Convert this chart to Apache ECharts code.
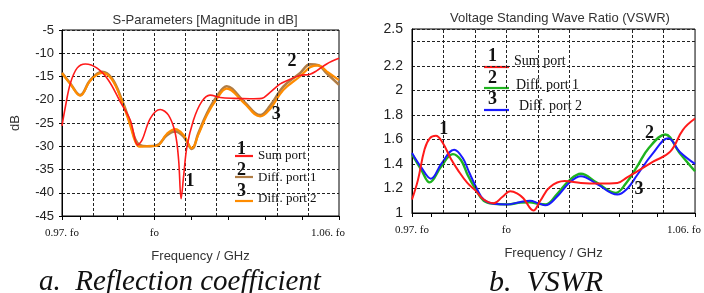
<!DOCTYPE html>
<html>
<head>
<meta charset="utf-8">
<script src="https://cdn.jsdelivr.net/npm/echarts@6/dist/echarts.min.js"></script>
<style>
  html, body { margin: 0; padding: 0; background: #fff; }
  #main { width: 704px; height: 293px; }
</style>
</head>
<body>
<div id="main"></div>
<script>
// ---- left chart: S-parameters (dB) ----
const sumPortF = [0.9700, 0.9711, 0.9727, 0.9749, 0.9776, 0.9814, 0.9851, 0.9889, 0.9922, 0.9946, 0.9960, 0.9987, 1.0019, 1.0046, 1.0068, 1.0079, 1.0087, 1.0095, 1.0106, 1.0127, 1.0154, 1.0181, 1.0214, 1.0257, 1.0311, 1.0349, 1.0376, 1.0409, 1.0441, 1.0473, 1.0506, 1.0527, 1.0560, 1.0600]
const sumPortDb = [-25.6, -21.5, -16.5, -13.2, -12.3, -13.2, -15.8, -20.4, -24.4, -29.7, -28.7, -24.0, -22.1, -23.3, -27.2, -33.0, -41.3, -36.5, -30.1, -24.4, -20.4, -19.0, -19.5, -19.7, -19.8, -19.7, -18.4, -16.6, -15.6, -14.8, -14.5, -13.8, -12.3, -11.1]

const diffF = [0.9700, 0.9727, 0.9759, 0.9792, 0.9830, 0.9862, 0.9895, 0.9922, 0.9938, 0.9952, 0.9976, 1.0008, 1.0041, 1.0068, 1.0095, 1.0122, 1.0143, 1.0171, 1.0203, 1.0235, 1.0290, 1.0344, 1.0376, 1.0419, 1.0473, 1.0506, 1.0533, 1.0560, 1.0600]
const diff1Db = [-14.2, -16.5, -19.0, -15.8, -14.0, -15.4, -20.1, -25.1, -28.5, -29.7, -30.0, -29.8, -27.6, -26.8, -27.9, -30.6, -27.2, -22.9, -19.3, -17.1, -20.3, -23.3, -21.3, -17.2, -14.3, -12.4, -12.6, -14.3, -16.8]
const diff2Db = [-14.3, -16.6, -19.1, -15.9, -14.2, -15.6, -20.4, -25.6, -29.0, -30.1, -30.0, -29.9, -27.3, -26.3, -27.6, -30.4, -27.5, -23.3, -19.8, -17.6, -20.6, -23.6, -22.0, -17.9, -15.0, -13.0, -12.6, -13.9, -15.8]

// ---- right chart: VSWR ----
const vswrSumF = [0.9700, 0.9719, 0.9740, 0.9757, 0.9776, 0.9798, 0.9824, 0.9846, 0.9876, 0.9903, 0.9928, 0.9960, 0.9987, 1.0012, 1.0034, 1.0054, 1.0086, 1.0108, 1.0138, 1.0185, 1.0237, 1.0296, 1.0353, 1.0384, 1.0416, 1.0468, 1.0521, 1.0562, 1.0600]
const vswrSum = [1.11, 1.27, 1.52, 1.61, 1.63, 1.57, 1.44, 1.35, 1.245, 1.18, 1.11, 1.08, 1.13, 1.177, 1.16, 1.12, 1.02, 1.10, 1.21, 1.26, 1.245, 1.24, 1.245, 1.29, 1.34, 1.42, 1.50, 1.68, 1.77]

const vswrD1F = [0.9700, 0.9730, 0.9756, 0.9793, 0.9830, 0.9856, 0.9877, 0.9903, 0.9928, 0.9961, 1.0003, 1.0045, 1.0075, 1.0102, 1.0126, 1.0160, 1.0202, 1.0237, 1.0286, 1.0347, 1.0380, 1.0416, 1.0453, 1.0505, 1.0551, 1.0600]
const vswrD1 = [1.48, 1.35, 1.25, 1.38, 1.48, 1.43, 1.31, 1.19, 1.10, 1.075, 1.07, 1.085, 1.088, 1.075, 1.07, 1.15, 1.27, 1.32, 1.25, 1.163, 1.24, 1.38, 1.53, 1.64, 1.49, 1.34]

const vswrD2F = [0.9700, 0.9730, 0.9760, 0.9793, 0.9834, 0.9861, 0.9882, 0.9906, 0.9928, 0.9961, 1.0003, 1.0045, 1.0075, 1.0102, 1.0124, 1.0160, 1.0202, 1.0237, 1.0286, 1.0353, 1.0385, 1.0416, 1.0464, 1.0515, 1.0551, 1.0600]
const vswrD2 = [1.49, 1.37, 1.28, 1.40, 1.516, 1.45, 1.33, 1.20, 1.11, 1.075, 1.07, 1.09, 1.10, 1.08, 1.063, 1.13, 1.25, 1.30, 1.24, 1.15, 1.20, 1.31, 1.48, 1.61, 1.50, 1.40]

// axis marks
const gridFreqs = [0.976, 0.988, 1.0, 1.012, 1.024, 1.036, 1.048]
const freqLabels = [0.97, 1.0, 1.06]
const vswrLabels = [1, 1.2, 1.4, 1.6, 1.8, 2, 2.2, 2.5]

// curve tags: [f, value, text]
const leftTags = [[1.0116, -37.6, '1'], [1.0447, -11.7, '2'], [1.0396, -23.1, '3']]
const rightTags = [[0.9801, 1.685, '1'], [1.0455, 1.652, '2'], [1.0422, 1.196, '3']]

const legendNames = ['Sum port', 'Diff. port 1', 'Diff. port 2']
const leftColors = ['#ff1a1a', '#b07d45', '#ff8c00']
const rightColors = ['#ff1a1a', '#1fb31f', '#1a1aff']

const zip = (xs, ys) => xs.map((x, i) => [x, ys[i]])
const sans = 'Liberation Sans'
const serif = 'Liberation Serif'
const dash = { color: '#222', type: [3, 2], width: 1 }

const chart = echarts.init(document.getElementById('main'))

function freqText(v) {
  const k = Math.round(v * 100)
  if (k === 97) return '0.97. fo'
  if (k === 100) return 'fo'
  if (k === 106) return '{r|1.06. fo}'
  return ''
}

function xAxisFor(gridIndex) {
  return {
    type: 'value', gridIndex, min: 0.97, max: 1.06,
    name: 'Frequency / GHz', nameLocation: 'middle', nameGap: 34,
    nameTextStyle: { fontFamily: sans, fontSize: 13, color: '#333' },
    axisLine: { lineStyle: { color: '#000', width: 1 } },
    axisTick: { show: true, length: 4, customValues: gridFreqs.concat([0.97, 1.06]), lineStyle: { color: '#000' } },
    axisLabel: {
      customValues: freqLabels, margin: 12,
      fontFamily: serif, fontSize: 11, color: '#111',
      formatter: freqText,
      rich: { r: { fontFamily: serif, fontSize: 11, color: '#111', padding: [0, 22, 0, 0] } }
    },
    splitLine: { show: false }
  }
}

function gridMarks() {
  return {
    silent: true, symbol: 'none', label: { show: false },
    lineStyle: dash, animation: false,
    data: gridFreqs.map(f => ({ xAxis: f }))
  }
}

function tagMarks(tags) {
  return {
    symbol: 'circle', symbolSize: 1, itemStyle: { color: 'transparent' },
    label: { show: true, position: 'inside', fontFamily: serif, fontWeight: 'bold', fontSize: 18, color: '#111', formatter: p => p.name },
    data: tags.map(t => ({ coord: [t[0], t[1]], name: t[2] }))
  }
}

function legendGraphics(rows, colors, fontSize) {
  const out = []
  rows.forEach((r, i) => {
    out.push({ type: 'text', left: r.numX - 5, top: r.numY - 10, style: { text: String(i + 1), font: 'bold 18px ' + serif, fill: '#111' } })
    out.push({ type: 'line', shape: { x1: r.lx1, y1: r.ly, x2: r.lx2, y2: r.ly }, style: { stroke: colors[i], lineWidth: 2.2 } })
    out.push({ type: 'text', left: r.tx, top: r.ty - fontSize * 0.6, style: { text: legendNames[i], font: fontSize + 'px ' + serif, fill: '#111' } })
  })
  return out
}

const leftLegendRows = [
  { numX: 242, numY: 150, lx1: 235, lx2: 253, ly: 156, tx: 258, ty: 157 },
  { numX: 242, numY: 171, lx1: 235, lx2: 253, ly: 177, tx: 258, ty: 179 },
  { numX: 242, numY: 192, lx1: 235, lx2: 253, ly: 201, tx: 258, ty: 200 }
]
const rightLegendRows = [
  { numX: 493, numY: 57, lx1: 484, lx2: 509, ly: 67, tx: 514, ty: 63 },
  { numX: 493, numY: 79, lx1: 484, lx2: 509, ly: 88, tx: 516, ty: 87 },
  { numX: 493, numY: 100, lx1: 484, lx2: 509, ly: 110, tx: 519, ty: 108 }
]

const option = {
  animation: false,
  backgroundColor: '#fff',
  title: [
    { text: 'S-Parameters [Magnitude in dB]', left: 200, top: 9, textAlign: 'center', textStyle: { fontFamily: sans, fontSize: 13, fontWeight: 'normal', color: '#333' } },
    { text: 'Voltage Standing Wave Ratio (VSWR)', left: 555, top: 7, textAlign: 'center', textStyle: { fontFamily: sans, fontSize: 13, fontWeight: 'normal', color: '#333' } },
    { text: 'a.  Reflection coefficient', left: 175, top: 263, textAlign: 'center', textStyle: { fontFamily: serif, fontStyle: 'italic', fontSize: 29, fontWeight: 'normal', color: '#111' } },
    { text: 'b.  VSWR', left: 541, top: 263, textAlign: 'center', textStyle: { fontFamily: serif, fontStyle: 'italic', fontSize: 30, fontWeight: 'normal', color: '#111' } }
  ],
  grid: [
    { left: 62, top: 30, width: 277, height: 186, show: true, borderColor: '#000', borderWidth: 1 },
    { left: 412, top: 29, width: 287, height: 184, show: true, borderColor: '#000', borderWidth: 1 }
  ],
  xAxis: [xAxisFor(0), xAxisFor(1)],
  yAxis: [
    {
      type: 'value', gridIndex: 0, min: -45, max: -5, interval: 5,
      name: 'dB', nameLocation: 'middle', nameGap: 40,
      nameTextStyle: { fontFamily: sans, fontSize: 13, color: '#333' },
      axisLine: { show: true, lineStyle: { color: '#000' } },
      axisTick: { show: true, length: 3, lineStyle: { color: '#000' } },
      axisLabel: { fontFamily: sans, fontSize: 13, color: '#222', margin: 8 },
      splitLine: { show: true, lineStyle: dash }
    },
    {
      type: 'value', gridIndex: 1, min: 1, max: 2.5, interval: 0.2,
      axisLine: { show: true, lineStyle: { color: '#000' } },
      axisTick: { show: false },
      axisLabel: {
        customValues: vswrLabels,
        fontFamily: sans, fontSize: 14, color: '#222', margin: 9,
        formatter: v => String(Math.round(v * 10) / 10)
      },
      splitLine: { show: true, lineStyle: dash }
    }
  ],
  graphic: legendGraphics(leftLegendRows, leftColors, 13).concat(legendGraphics(rightLegendRows, rightColors, 14)),
  series: [
    { name: 'Sum port', type: 'line', xAxisIndex: 0, yAxisIndex: 0, data: zip(sumPortF, sumPortDb), smooth: 0.35, showSymbol: false, lineStyle: { color: leftColors[0], width: 1.6 }, markLine: gridMarks(), z: 5 },
    { name: 'Diff. port 1', type: 'line', xAxisIndex: 0, yAxisIndex: 0, data: zip(diffF, diff1Db), smooth: 0.4, showSymbol: false, lineStyle: { color: leftColors[1], width: 2.6 }, z: 3 },
    { name: 'Diff. port 2', type: 'line', xAxisIndex: 0, yAxisIndex: 0, data: zip(diffF, diff2Db), smooth: 0.4, showSymbol: false, lineStyle: { color: leftColors[2], width: 2.2 }, markPoint: tagMarks(leftTags), z: 4 },
    { name: 'Sum port', type: 'line', xAxisIndex: 1, yAxisIndex: 1, data: zip(vswrSumF, vswrSum), smooth: 0.4, showSymbol: false, lineStyle: { color: rightColors[0], width: 2 }, markLine: gridMarks(), z: 5 },
    { name: 'Diff. port 1', type: 'line', xAxisIndex: 1, yAxisIndex: 1, data: zip(vswrD1F, vswrD1), smooth: 0.4, showSymbol: false, lineStyle: { color: rightColors[1], width: 2.4 }, z: 3 },
    { name: 'Diff. port 2', type: 'line', xAxisIndex: 1, yAxisIndex: 1, data: zip(vswrD2F, vswrD2), smooth: 0.4, showSymbol: false, lineStyle: { color: rightColors[2], width: 2 }, markPoint: tagMarks(rightTags), z: 4 }
  ]
}

chart.setOption(option)
</script>
</body>
</html>
